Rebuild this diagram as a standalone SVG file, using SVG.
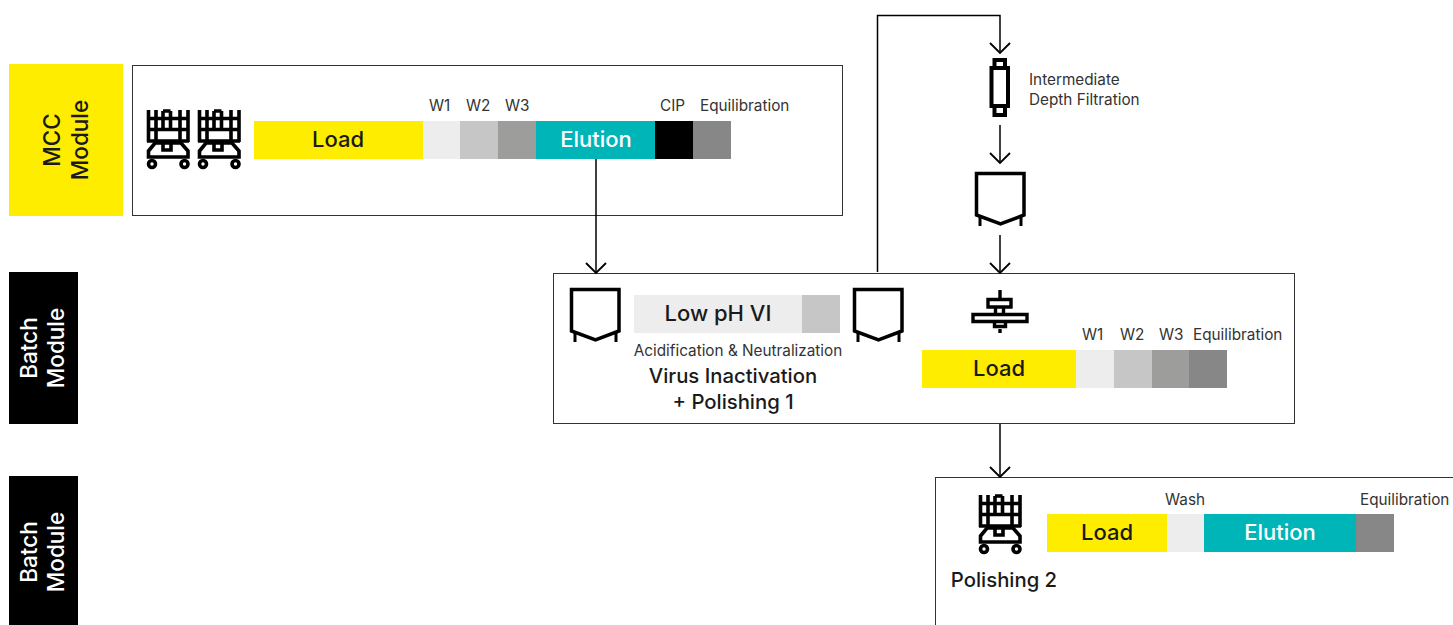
<svg xmlns="http://www.w3.org/2000/svg" width="1453" height="625" viewBox="0 0 1453 625">
<style>
text{font-family:Inter,"Noto Sans",sans-serif;fill:#1a1a1a}
.box{fill:#fff;stroke:#333;stroke-width:1}
.lbl{font-size:22px;text-anchor:middle;font-weight:450}
.sm{font-size:15.300px;fill:#333}
.md{font-size:20.300px;text-anchor:middle;font-weight:450}
.ic{fill:none;stroke:#000;stroke-width:3}
.con{fill:none;stroke:#000;stroke-width:1.5}
.side{font-size:22.500px;text-anchor:middle;font-weight:450}
</style>
<defs>
<marker id="arr" markerUnits="userSpaceOnUse" markerWidth="24" markerHeight="26" refX="19" refY="13" orient="auto"><path d="M9 3L19 13L9 23" fill="none" stroke="#000" stroke-width="1.800"/></marker>
<g id="tank" class="ic"><path d="M1.500 1.500H49V43L25.500 52L1.500 43Z" stroke-width="3.500"/><path d="M5 44V54M46 44V54"/></g>
<g id="cart" class="ic" style="stroke-width:3.600">
<path d="M1.500 0V32M9 0V31M33 0V31M41 0V32M16 1V19.500M23.500 1V19.500M16 1H23.500M0 8.500H42M0 19.500H42M0 31H42"/>
<path d="M16 31V40H24V31"/>
<path d="M1.500 47V41L8 33H34L41 41V47H1.500Z"/>
<circle cx="5" cy="54" r="3.500"/><circle cx="37.500" cy="54" r="3.500"/>
</g>
</defs>
<g id="label-mcc"><rect x="9" y="64" width="114" height="152" fill="#ffed00"/><text class="side" transform="translate(68 140) rotate(-90)"><tspan x="0" y="-8">MCC</tspan><tspan x="0" y="20">Module</tspan></text></g>
<g id="label-batch1"><rect x="9" y="272" width="69" height="152" fill="#000"/><text class="side" style="fill:#fff" transform="translate(43 348) rotate(-90)"><tspan x="0" y="-6">Batch</tspan><tspan x="0" y="21">Module</tspan></text></g>
<g id="label-batch2"><rect x="9" y="476" width="69" height="149" fill="#000"/><text class="side" style="fill:#fff" transform="translate(43 552) rotate(-90)"><tspan x="0" y="-6">Batch</tspan><tspan x="0" y="21">Module</tspan></text></g>

<g id="mcc-module">
<rect class="box" x="132.500" y="65.500" width="710" height="150"/>
<use href="#cart" x="147" y="110"/><use href="#cart" x="198" y="110"/>
<rect x="254" y="121" width="169" height="38" fill="#ffed00"/><text class="lbl" x="338" y="147">Load</text>
<rect x="423" y="121" width="38" height="38" fill="#ededed"/>
<rect x="460" y="121" width="38" height="38" fill="#c6c6c6"/>
<rect x="498" y="121" width="38" height="38" fill="#9d9d9c"/>
<rect x="536" y="121" width="119" height="38" fill="#00b5b8"/><text class="lbl" style="fill:#fff" x="596" y="147">Elution</text>
<rect x="655" y="121" width="38" height="38" fill="#000"/>
<rect x="693" y="121" width="38" height="38" fill="#878787"/>
<text class="sm" x="429" y="111">W1</text><text class="sm" x="466" y="111">W2</text><text class="sm" x="505" y="111">W3</text><text class="sm" x="660" y="111">CIP</text><text class="sm" x="700" y="111">Equilibration</text>
</g>

<g id="batch-module-1">
<rect class="box" x="553.500" y="273.500" width="741" height="150"/>
<use href="#tank" x="570" y="288"/><use href="#tank" x="853" y="288"/>
<rect x="634" y="295" width="168" height="38" fill="#ededed"/><text class="lbl" x="718" y="321">Low pH VI</text>
<rect x="802" y="295" width="38" height="38" fill="#c6c6c6"/>
<text class="sm" x="738" y="356" text-anchor="middle">Acidification &amp; Neutralization</text>
<text class="md" x="733" y="383">Virus Inactivation</text><text class="md" x="733" y="409">+ Polishing 1</text>
<path class="ic" style="stroke-width:3.400" d="M1000 290V299M1000 329V333M973 314.500H1027V321.500H973ZM988 299.500H1011V307H988ZM995.500 307V314.500M1003.500 307V314.500M994.500 321.500V326.500H1005.500V321.500"/>
<rect x="922" y="350" width="154" height="38" fill="#ffed00"/><text class="lbl" x="999" y="376">Load</text>
<rect x="1076" y="350" width="38" height="38" fill="#ededed"/>
<rect x="1114" y="350" width="38" height="38" fill="#c6c6c6"/>
<rect x="1152" y="350" width="37" height="38" fill="#9d9d9c"/>
<rect x="1189" y="350" width="38" height="38" fill="#878787"/>
<text class="sm" x="1082" y="340">W1</text><text class="sm" x="1120" y="340">W2</text><text class="sm" x="1159" y="340">W3</text><text class="sm" x="1193" y="340">Equilibration</text>
</g>

<g id="batch-module-2">
<rect class="box" x="935.500" y="477.500" width="530" height="160"/>
<use href="#cart" x="979" y="495"/>
<rect x="1047" y="514" width="120" height="38" fill="#ffed00"/><text class="lbl" x="1107" y="540">Load</text>
<rect x="1167" y="514" width="37" height="38" fill="#ededed"/>
<rect x="1204" y="514" width="152" height="38" fill="#00b5b8"/><text class="lbl" style="fill:#fff" x="1280" y="540">Elution</text>
<rect x="1356" y="514" width="38" height="38" fill="#878787"/>
<text class="sm" x="1165" y="505">Wash</text><text class="sm" x="1360" y="505">Equilibration</text>
<text class="md" x="1004" y="587">Polishing 2</text>
</g>

<g id="depth-filter">
<path class="ic" style="stroke-width:4" d="M994.500 60H1005V68H994.500ZM994.500 106H1005V115H994.500ZM991.500 68H1008V106H991.500Z"/>
<text class="sm" x="1029" y="85">Intermediate</text><text class="sm" x="1029" y="105">Depth Filtration</text>
</g>
<g id="hold-tank"><use href="#tank" x="975" y="172"/></g>

<g id="connectors">
<path class="con" d="M596 159V273" marker-end="url(#arr)"/>
<path class="con" d="M877.500 272V15.500H1000V53" marker-end="url(#arr)"/>
<path class="con" d="M1000 125V163" marker-end="url(#arr)"/>
<path class="con" d="M1000 235V273" marker-end="url(#arr)"/>
<path class="con" d="M1000 424V477" marker-end="url(#arr)"/>
</g>
</svg>
